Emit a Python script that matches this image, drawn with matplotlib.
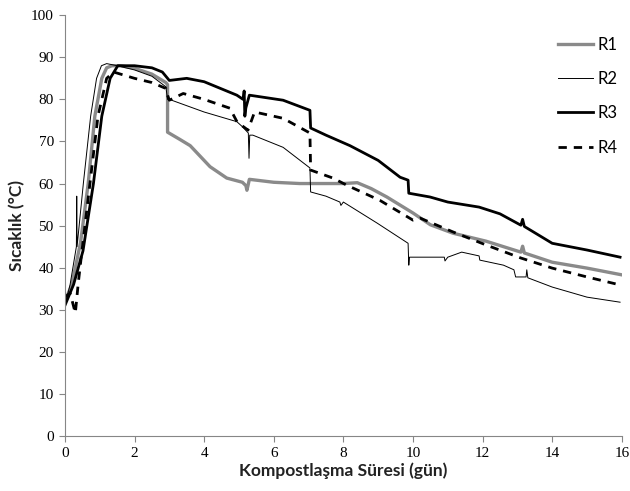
import matplotlib
matplotlib.use("Agg")
import matplotlib.pyplot as plt

# R1 - thick gray
r1_x = [0.0, 0.2, 0.45, 0.67, 0.86, 1.06, 1.2, 1.35, 1.6, 2.0, 2.5, 2.9, 2.95, 2.95, 3.3, 3.6, 4.17, 4.65,
        5.1, 5.2, 5.23, 5.3, 6.0, 6.75, 8.0, 8.4, 8.8, 9.25, 10.0, 10.5, 11.15, 12.1, 13.1, 13.15, 13.2,
        14.0, 15.0, 16.0]
r1_y = [32, 36, 46, 60, 76, 85, 87.5, 88, 88, 87.4, 86, 84, 83.5, 72.2, 70.5, 69, 64, 61.3,
        60.3, 59.5, 58.4, 61, 60.3, 60, 60, 60.2, 58.8, 56.8, 53, 50.2, 48.2, 46.3, 43.7, 45.1, 43.5,
        41.3, 39.9, 38.3]

# R2 - thin black
r2_x = [0.0, 0.15, 0.33, 0.34, 0.35, 0.53, 0.74, 0.91, 1.05, 1.2, 1.5, 2.0, 2.5, 2.9, 2.95, 3.0, 3.5, 4.0,
        4.94, 5.1, 5.27, 5.29, 5.31, 5.4, 6.27, 7.04, 7.06, 7.5, 7.9, 7.93, 8.0, 8.97, 9.86, 9.88, 9.9,
        10.2, 10.9, 10.92, 11.0, 11.4, 11.9, 11.92, 12.6, 12.9, 12.95, 13.25, 13.27, 13.3, 14.0, 15.0, 15.95]
r2_y = [31, 36, 45, 57, 45, 60, 76, 85, 88, 88.5, 88, 87, 85.5, 83, 80, 80, 78.5, 77,
        74.7, 73.5, 72, 66, 71.5, 71.5, 68.6, 63.7, 58, 57, 55.6, 54.8, 55.6, 50.6, 45.8, 40.6, 42.5,
        42.5, 42.5, 41.6, 42.5, 43.7, 42.8, 41.8, 40.6, 39.5, 37.8, 37.8, 39.5, 37.6, 35.4, 33, 31.8]

# R3 - thick black
r3_x = [0.0, 0.25, 0.52, 0.82, 1.06, 1.3, 1.52, 2.0, 2.5, 2.8, 2.95, 3.0, 3.5, 4.0, 4.94, 5.12, 5.15,
        5.17, 5.2, 5.3, 6.27, 7.04, 7.06, 7.5, 8.19, 9.0, 9.63, 9.86, 9.88, 10.49, 11.0, 11.9, 12.5,
        13.1, 13.15, 13.2, 14.0, 15.0, 15.95]
r3_y = [31, 36, 44, 60, 76, 85, 88, 88, 87.5, 86.5, 85, 84.5, 85, 84.2, 81, 80, 82,
        76, 78, 81, 79.8, 77.4, 73.2, 71.5, 69, 65.5, 61.5, 60.8, 57.7, 56.8, 55.6, 54.4, 52.8,
        50.1, 51.5, 49.8, 45.8, 44.2, 42.5]

# R4 - dashed black
r4_x = [0.0, 0.15, 0.3, 0.38, 0.49, 0.72, 0.95, 1.2, 1.4, 1.6, 2.0, 2.5, 2.9, 2.95, 3.0, 3.4, 4.0,
        4.74, 4.95, 5.26, 5.45, 6.27, 7.04, 7.06, 7.7, 8.1, 9.05, 10.0, 10.2, 11.15, 12.1, 13.1,
        14.0, 15.0, 15.95]
r4_y = [33, 34, 29.2, 36, 44, 60, 76, 85, 86.5, 86, 85, 84, 82.6, 81, 79.8, 81.4, 80,
        77.9, 74.6, 72.7, 77, 75.5, 72, 63.2, 61.3, 59.6, 56, 51.3, 51.8, 48.5, 45.4, 42.3,
        39.9, 37.8, 35.9]

xticks = list(range(0, 17, 2))
yticks = list(range(0, 101, 10))

fig = plt.figure(figsize=(6.3, 4.91), dpi=100)
ax = fig.add_axes([0.103, 0.112, 0.884, 0.857])

ax.plot(r1_x, r1_y, color='#8a8a8a', lw=2.4, label='R1')
ax.plot(r2_x, r2_y, color='black', lw=0.7, label='R2')
ax.plot(r3_x, r3_y, color='black', lw=2.0, label='R3')
ax.plot(r4_x, r4_y, color='black', lw=2.0, ls=(0, (3, 2.5)), label='R4')

ax.set_xlim(0, 16)
ax.set_ylim(0, 100)
ax.set_xticks(xticks)
ax.set_yticks(yticks)
for lab in ax.get_xticklabels() + ax.get_yticklabels():
    lab.set_family('Liberation Serif')
    lab.set_fontsize(11)

for s in ['top', 'right']:
    ax.spines[s].set_visible(False)
for s in ['left', 'bottom']:
    ax.spines[s].set_color('#868686')
ax.tick_params(direction='out', color='#868686', length=4, pad=4)

ax.set_xlabel('Kompostlaşma Süresi (gün)', fontsize=12.5, fontfamily='Lato', fontweight='bold',
              color='#222222', labelpad=2)
ax.set_ylabel('Sıcaklık (°C)', fontsize=12.5, fontfamily='Lato', fontweight='bold',
              color='#222222', labelpad=4)

ax.legend(loc='upper right', bbox_to_anchor=(1.02, 0.985), frameon=False,
          handlelength=2.1, labelspacing=1.1, handletextpad=0.3,
          prop={'family': 'Lato', 'size': 12})

fig.savefig('out.png', dpi=100)
